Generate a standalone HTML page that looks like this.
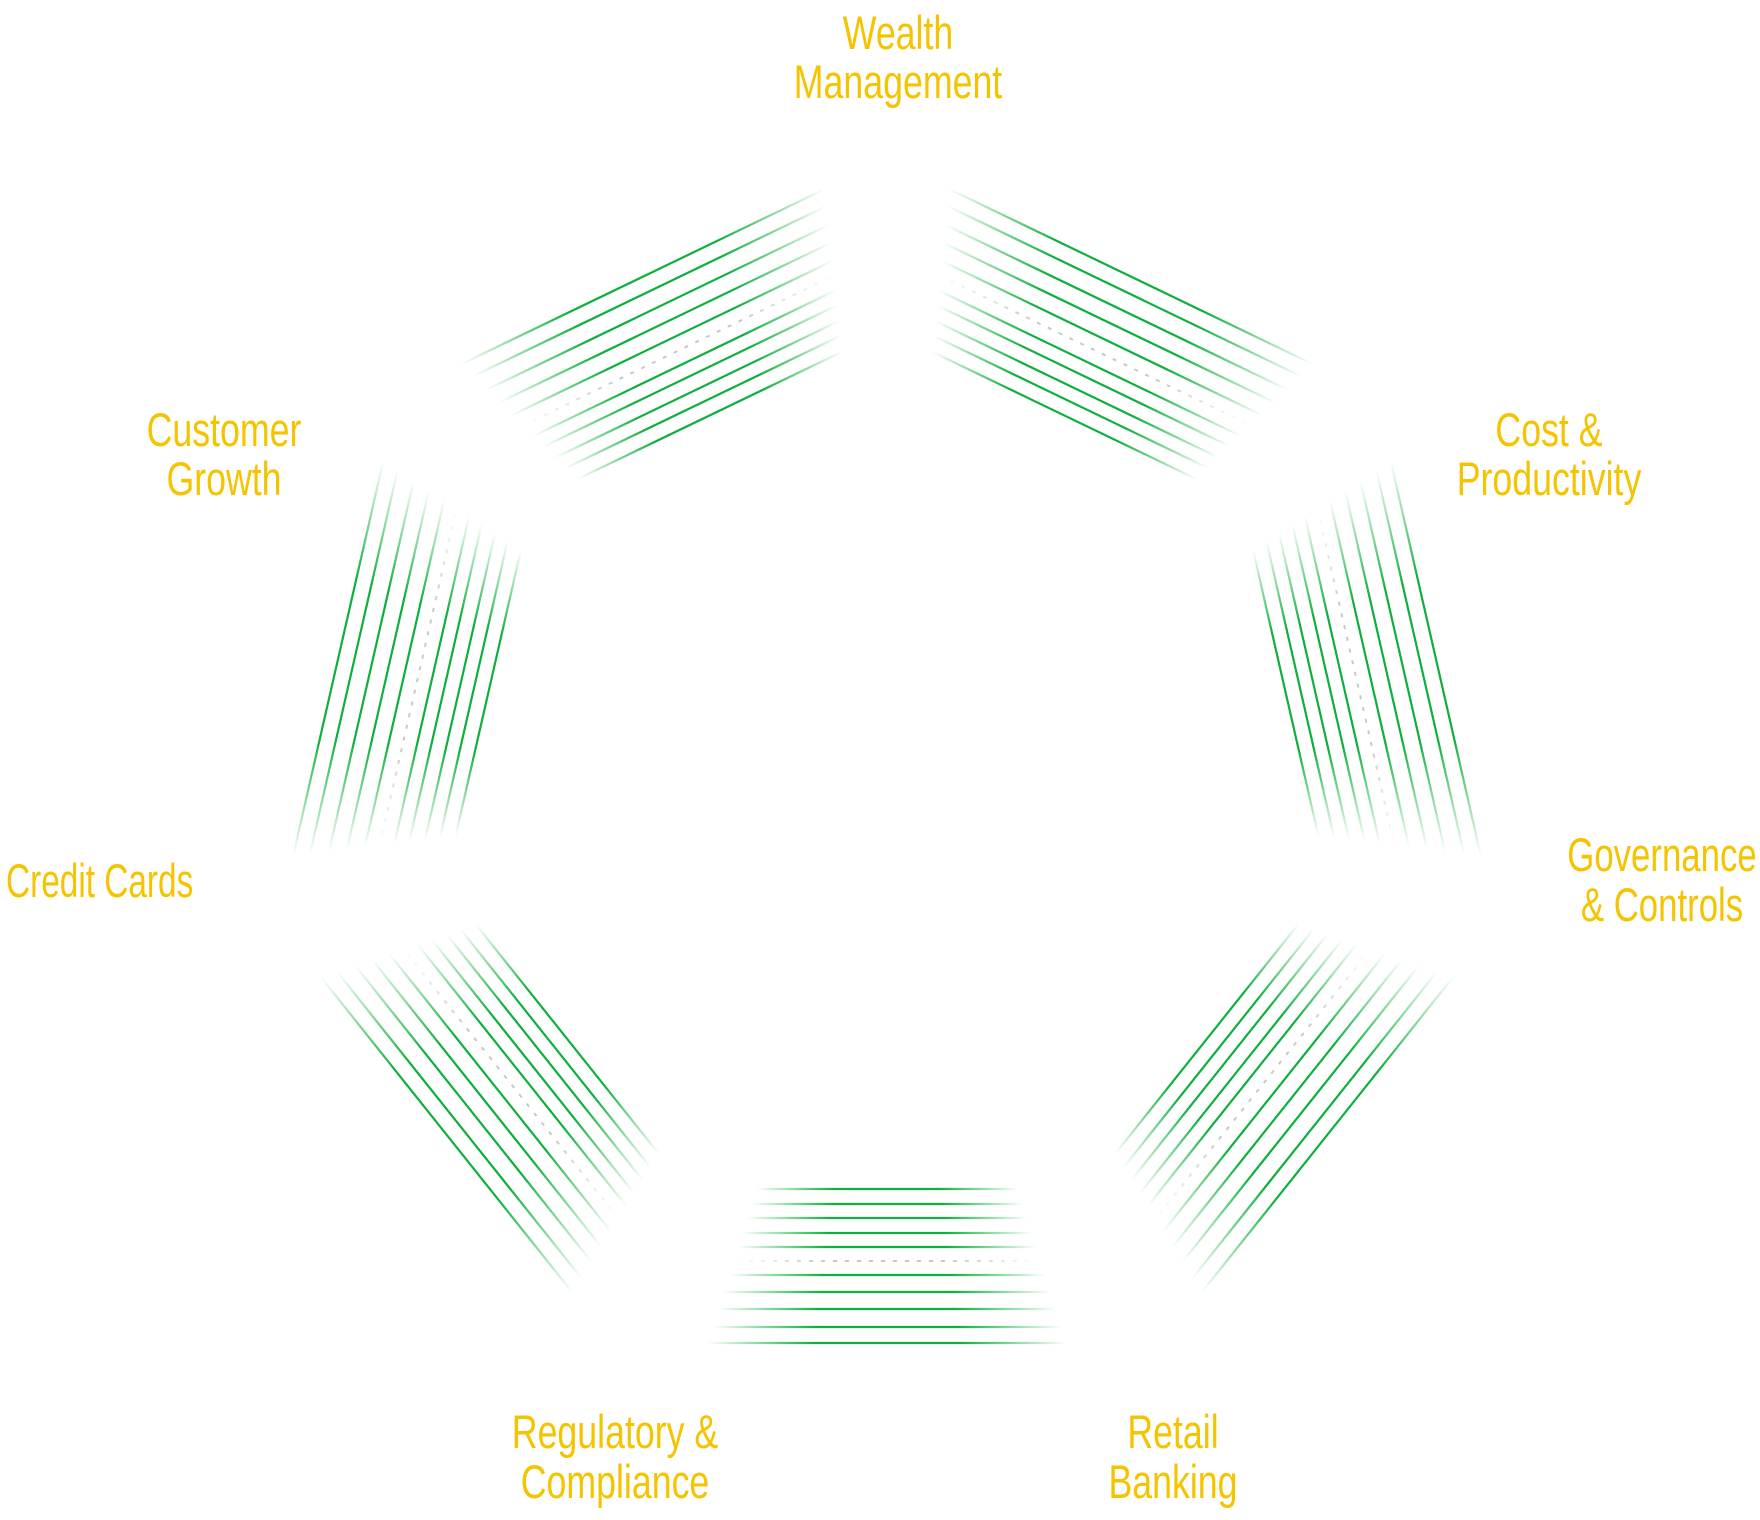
<!DOCTYPE html>
<html><head><meta charset="utf-8">
<style>
html,body{margin:0;padding:0;background:#fff;}
svg{display:block;}
text{font-family:"Liberation Sans",sans-serif;font-size:47px;fill:#f5c400;text-anchor:middle;}
</style></head>
<body>
<svg id="s" width="1760" height="1520" viewBox="0 0 1760 1520" xmlns="http://www.w3.org/2000/svg">
<defs id="d"></defs>
<g id="g"></g>
<g id="t">
<text transform="translate(898,49) scale(0.76,1)">Wealth</text>
<text transform="translate(898,98) scale(0.76,1)">Management</text>
<text transform="translate(224,446) scale(0.76,1)">Customer</text>
<text transform="translate(224,495) scale(0.76,1)">Growth</text>
<text transform="translate(1549,446) scale(0.76,1)">Cost &amp;</text>
<text transform="translate(1549,495) scale(0.76,1)">Productivity</text>
<text transform="translate(1662,871) scale(0.74,1)">Governance</text>
<text transform="translate(1662,921) scale(0.74,1)">&amp; Controls</text>
<text transform="translate(6,897) scale(0.71,1)" style="text-anchor:start">Credit Cards</text>
<text transform="translate(615,1448) scale(0.76,1)">Regulatory &amp;</text>
<text transform="translate(615,1498) scale(0.76,1)">Compliance</text>
<text transform="translate(1173,1448) scale(0.76,1)">Retail</text>
<text transform="translate(1173,1498) scale(0.76,1)">Banking</text>
</g>
</svg>
<script>
(function(){
var NS="http://www.w3.org/2000/svg";
var d=document.getElementById('d'),g=document.getElementById('g');
var cx=887,cy=784;
var offs=[409,424,438,453,467,481,495,512,529,547,563];
var id=0;
for(var k=0;k<7;k++){
  var ang=(90+k*360/7)*Math.PI/180;
  var nx=Math.cos(ang),ny=Math.sin(ang);
  var tx=-ny,ty=nx;
  var f=(k==0)?0.32:0.36;
  var ccy=(k==0)?780:cy;
  for(var i=0;i<offs.length;i++){
    var a=offs[i],h=f*a;
    var mx=cx+nx*a,my=ccy+ny*a;
    var x1=mx-tx*h,y1=my-ty*h,x2=mx+tx*h,y2=my+ty*h;
    var dash=(i==5);
    var col=dash?'#c8c8c8':'#0db03c';
    var gr=document.createElementNS(NS,'linearGradient');
    gr.setAttribute('id','L'+id);gr.setAttribute('gradientUnits','userSpaceOnUse');
    gr.setAttribute('x1',x1);gr.setAttribute('y1',y1);gr.setAttribute('x2',x2);gr.setAttribute('y2',y2);
    [[0,0],[0.3,1],[0.7,1],[1,0]].forEach(function(s){
      var st=document.createElementNS(NS,'stop');
      st.setAttribute('offset',s[0]);st.setAttribute('stop-color',col);st.setAttribute('stop-opacity',s[1]);
      gr.appendChild(st);
    });
    d.appendChild(gr);
    var l=document.createElementNS(NS,'line');
    l.setAttribute('x1',x1);l.setAttribute('y1',y1);l.setAttribute('x2',x2);l.setAttribute('y2',y2);
    l.setAttribute('stroke','url(#L'+id+')');l.setAttribute('stroke-width',dash?2:2.2);
    if(dash)l.setAttribute('stroke-dasharray','4 8');
    g.appendChild(l);
    id++;
  }
}
})();
</script>
</body></html>
